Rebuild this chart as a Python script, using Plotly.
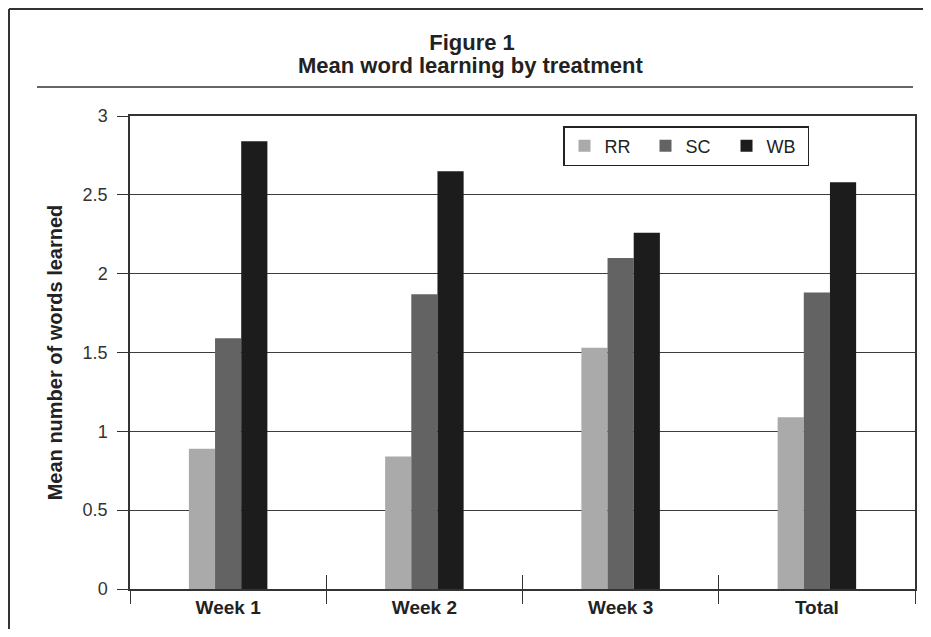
import plotly.graph_objects as go

categories = ["Week 1", "Week 2", "Week 3", "Total"]
series_names = ["RR", "SC", "WB"]
rr_values = [0.89, 0.84, 1.53, 1.09]
sc_values = [1.59, 1.87, 2.10, 1.88]
wb_values = [2.84, 2.65, 2.26, 2.58]
y_ticks = [0, 0.5, 1, 1.5, 2, 2.5, 3]
y_tick_labels = ["0", "0.5", "1", "1.5", "2", "2.5", "3"]

colors = ["#aaaaaa", "#636363", "#1c1c1c"]
FONT = "Liberation Sans, Arial, sans-serif"
INK = "#222222"

fig = go.Figure()
for name, vals, col in zip(series_names, [rr_values, sc_values, wb_values], colors):
    fig.add_trace(go.Bar(name=name, x=categories, y=vals, marker=dict(color=col, line=dict(width=0)),
                         xaxis="x", yaxis="y"))

# helper invisible trace to carry the overlay axis used for crossing category ticks
fig.add_trace(go.Scatter(x=categories, y=[0] * len(categories), xaxis="x2", yaxis="y",
                         mode="markers", marker=dict(opacity=0), showlegend=False, hoverinfo="skip"))

# page body has an 8px margin on every side; work in window pixel coordinates and convert
OFF = 8
WIN_W, WIN_H = 931, 637
W, H = WIN_W - 2 * OFF, WIN_H - 2 * OFF
PLOT_L, PLOT_R, PLOT_T, PLOT_B = 130, 915, 116, 589
L = PLOT_L - OFF
T = PLOT_T - OFF
R = (WIN_W - OFF) - PLOT_R
B = (WIN_H - OFF) - PLOT_B
pw = PLOT_R - PLOT_L
ph = PLOT_B - PLOT_T

def px(x):
    return (x - PLOT_L) / pw

def py(y):
    return (PLOT_B - y) / ph

fig.update_layout(
    width=W, height=H,
    margin=dict(l=L, r=R, t=T, b=B, autoexpand=False),
    paper_bgcolor="white", plot_bgcolor="white",
    font=dict(family=FONT, color=INK, size=18),
    barmode="group", bargap=0.6, bargroupgap=0,
    title=dict(text="<b>Figure 1</b>", x=px(472), xref="paper", xanchor="center",
               y=1 - (42 - OFF) / H, yref="container", yanchor="middle",
               font=dict(family=FONT, size=22, color=INK)),
    showlegend=True,
    legend=dict(orientation="h", x=px(563), y=py(126), xanchor="left", yanchor="top",
                bordercolor="#222222", borderwidth=1.5, bgcolor="white",
                font=dict(family=FONT, size=18, color=INK),
                entrywidthmode="pixels", entrywidth=36, traceorder="normal"),
    xaxis=dict(type="category", categoryorder="array", categoryarray=categories,
               range=[-0.5, len(categories) - 0.5],
               showline=True, linecolor="#333333", linewidth=1.5, mirror=True,
               ticks="outside", ticklen=13, tickwidth=1, tickcolor="#333333", tickson="boundaries",
               showgrid=False, tickfont=dict(family=FONT, size=19, color=INK, weight="bold")),
    xaxis2=dict(type="category", categoryorder="array", categoryarray=categories,
                range=[-0.5, len(categories) - 0.5], overlaying="x", anchor="y", side="bottom",
                ticks="inside", ticklen=14, tickwidth=1, tickcolor="#333333", tickson="boundaries",
                showticklabels=False, showgrid=False, showline=False),
    yaxis=dict(range=[0, 3], tickvals=y_ticks, ticktext=y_tick_labels,
               showline=True, linecolor="#333333", linewidth=1.5, mirror=True,
               ticks="outside", ticklen=11, tickwidth=1, tickcolor="#333333",
               showgrid=True, gridcolor="#3c3c3c", gridwidth=1, zeroline=False,
               ticklabelstandoff=6,
               tickfont=dict(family=FONT, size=18, color="#333333"),
               title=dict(text="<b>Mean number of words learned</b>", standoff=15,
                          font=dict(family=FONT, size=20, color=INK))),
    annotations=[dict(text="<b>Mean word learning by treatment</b>", xref="paper", yref="paper",
                      x=px(470), y=py(66), xanchor="center", yanchor="middle", showarrow=False,
                      font=dict(family=FONT, size=22, color=INK))],
    shapes=[
        dict(type="line", xref="paper", yref="paper", x0=px(37), x1=px(913), y0=py(87), y1=py(87),
             line=dict(color="#333333", width=1.5)),
        dict(type="line", xref="paper", yref="paper", x0=px(9), x1=px(930), y0=py(9), y1=py(9),
             line=dict(color="#333333", width=2)),
        dict(type="line", xref="paper", yref="paper", x0=px(9), x1=px(9), y0=py(9), y1=py(640),
             line=dict(color="#333333", width=2)),
    ],
)

fig.write_html("out.html")
